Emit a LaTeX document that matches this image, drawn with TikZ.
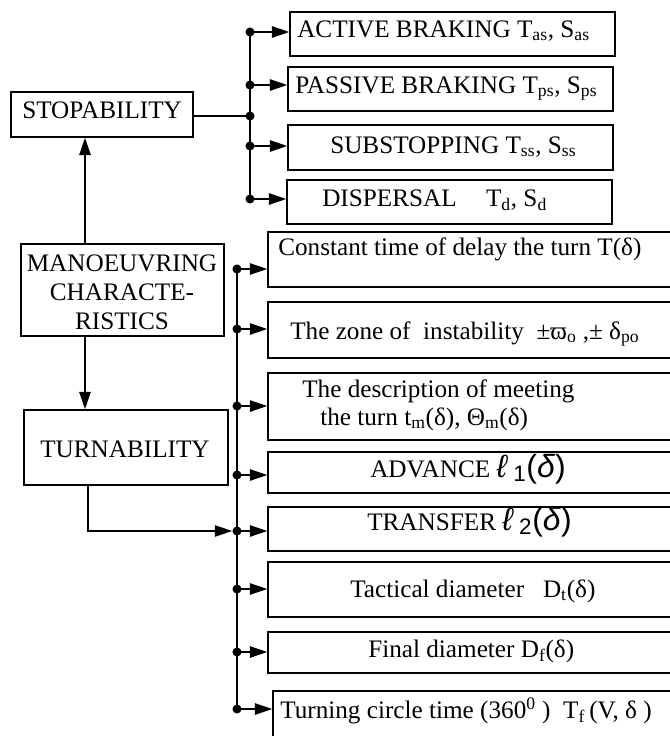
\documentclass[tikz,border=0pt]{standalone}
\usepackage{fontspec}
\setmainfont{Liberation Serif}
\newfontfamily\sansmath{Liberation Sans}
\usetikzlibrary{arrows.meta,fit}
\begin{document}
\begin{tikzpicture}[x=0.75pt,y=-0.75pt,
  box/.style={draw, line width=1.1pt, inner sep=0pt},
  lbl/.style={font=\fontsize{18.9}{21.4}\selectfont, inner sep=0pt},
  bus/.style={line width=1.7pt},
  conn/.style={line width=1.1pt},
  arr/.style={-{Triangle[length=13pt,width=8.5pt]}},
  dot/.style={circle, fill, inner sep=0pt, minimum size=6.8pt}
]
\useasboundingbox (0,0) rectangle (670,736);
\clip (0,0) rectangle (670,736);
\fill[white] (0,0) rectangle (670,736);

% ---- left boxes
\node[box, fit={(11,92) (193,137)}] (bStop) {};
\node[lbl, anchor=base west] (tStop) at (22,118) {STOPABILITY};
\node[box, fit={(21,244) (224,336)}] (bMan) {};
\node[lbl, align=center, anchor=base] (tMan) at (122,329) {MANOEUVRING\\CHARACTE-\\RISTICS};
\node[box, fit={(24,410) (228,485)}] (bTurn) {};
\node[lbl, anchor=base] (tTurn) at (125,457) {TURNABILITY};

% ---- stopping boxes
\node[box, fit={(290,12) (615,56)}] (bA) {};
\node[lbl, anchor=base west] (tA) at (297,37) {ACTIVE BRAKING T\textsubscript{as}, S\textsubscript{as}};
\node[box, fit={(288,67) (613,111)}] (bB) {};
\node[lbl, anchor=base west] (tB) at (295,93) {PASSIVE BRAKING T\textsubscript{ps}, S\textsubscript{ps}};
\node[box, fit={(288,125) (613,170)}] (bC) {};
\node[lbl, anchor=base west] (tC) at (330,153) {SUBSTOPPING T\textsubscript{ss}, S\textsubscript{ss}};
\node[box, fit={(287,180) (612,224)}] (bD) {};
\node[lbl, anchor=base west] (tD) at (322,206) {DISPERSAL\hspace{22pt}T\textsubscript{d}, S\textsubscript{d}};

% ---- turning boxes
\node[box, fit={(268,232) (700,287)}] (b1) {};
\node[lbl, anchor=base west] (t1) at (278,255) {Constant time of delay the turn T(δ)};
\node[box, fit={(268,302) (700,358)}] (b2) {};
\node[lbl, anchor=base west] (t2) at (290,339) {The zone of\ \ instability\ \ ±ϖ\textsubscript{o} ,± δ\textsubscript{po}};
\node[box, fit={(268,373) (700,440)}] (b3) {};
\node[lbl, anchor=base west] (t3a) at (302,397) {The description of meeting};
\node[lbl, anchor=base west] (t3b) at (320,425) {the turn t\textsubscript{m}(δ), Θ\textsubscript{m}(δ)};
\node[box, fit={(268,452) (700,493)}] (b4) {};
\node[lbl, anchor=base west] (t4) at (370,477) {ADVANCE {\sansmath\fontsize{24}{26}\selectfont\textit{ℓ}\,\textsubscript{1}(\textit{δ})}};
\node[box, fit={(268,507) (700,551)}] (b5) {};
\node[lbl, anchor=base west] (t5) at (367,530) {TRANSFER {\sansmath\fontsize{24}{26}\selectfont\textit{ℓ}\,\textsubscript{2}(\textit{δ})}};
\node[box, fit={(268,562) (700,617)}] (b6) {};
\node[lbl, anchor=base west] (t6) at (350,597) {Tactical diameter\ \ \ D\textsubscript{t}(δ)};
\node[box, fit={(268,632) (700,673)}] (b7) {};
\node[lbl, anchor=base west] (t7) at (368,657) {Final diameter D\textsubscript{f}(δ)};
\node[box, fit={(273,691) (700,770)}] (b8) {};
\node[lbl, anchor=base west] (t8) at (280,718) {Turning circle time (360\textsuperscript{0} )\ \ T\textsubscript{f}\,(V, δ )};

% ---- stop bus
\node[dot] (dA) at (250,32) {};
\node[dot] (dB) at (250,85) {};
\node[dot] (dS) at (250,116) {};
\node[dot] (dC) at (250,146) {};
\node[dot] (dD) at (250,199) {};
\draw[bus] (dA.center) -- (dD.center);
\draw[conn] (bStop.east |- dS) -- (dS.center);
\foreach \d/\b in {dA/bA, dB/bB, dC/bC, dD/bD}
  \draw[conn, arr] (\d.center) -- (\d -| \b.west);

% ---- turn bus
\node[dot] (e1) at (237,269) {};
\node[dot] (e2) at (237,329) {};
\node[dot] (e3) at (237,406) {};
\node[dot] (e4) at (237,475) {};
\node[dot] (e5) at (237,531) {};
\node[dot] (e6) at (237,589) {};
\node[dot] (e7) at (237,652) {};
\node[dot] (e8) at (237,709) {};
\draw[bus] (e1.center) -- (e8.center);
\foreach \d/\b in {e1/b1, e2/b2, e3/b3, e4/b4, e5/b5, e6/b6, e7/b7, e8/b8}
  \draw[conn, arr] (\d.center) -- (\d -| \b.west);

% ---- main connectors
\coordinate (m1) at (85,244);
\coordinate (m2) at (85,336);
\coordinate (tS) at (88,485);
\draw[conn, arr] (m1) -- (m1 |- bStop.south);
\draw[conn, arr] (m2) -- (m2 |- bTurn.north);
\draw[conn, arr] (tS) |- (e5.west);
\end{tikzpicture}
\end{document}
